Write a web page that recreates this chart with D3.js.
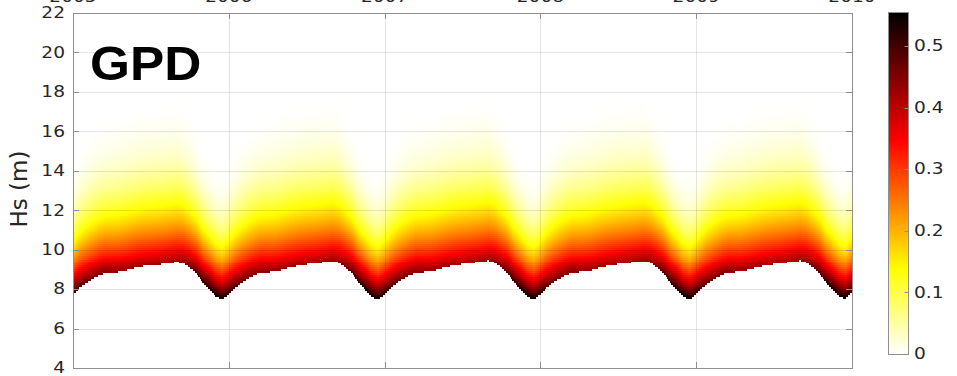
<!DOCTYPE html>
<html>
<head>
<meta charset="utf-8">
<script src="https://cdn.jsdelivr.net/npm/d3@7/dist/d3.min.js"></script>
<style>
  html, body { margin: 0; padding: 0; background: #fff; overflow: hidden; }
  svg { display: block; }
</style>
</head>
<body>
<svg id="chart" width="957" height="376"></svg>
<script>
// Year ticks along the time axis
const yearTicks = [2005, 2006, 2007, 2008, 2009, 2010];
// Significant wave height ticks (m)
const hsTicks = [4, 6, 8, 10, 12, 14, 16, 18, 20, 22];
// Colour bar ticks (probability density)
const densityTicks = [0, 0.1, 0.2, 0.3, 0.4, 0.5];
const densityMax = 0.555;

// GPD parameters, sampled twice a month from 2005.0 to 2010.0
const samplesPerYear = 24;
// threshold u (m): lower bound of the distribution
const threshold = [
  7.66, 8.05, 8.30, 8.50, 8.68, 8.80, 8.82, 8.85, 8.92, 9.02, 9.10, 9.16, 9.20, 9.23, 9.27, 9.32, 9.38, 9.30, 9.07, 8.78, 8.31, 7.98, 7.63, 7.46,
  7.74, 8.06, 8.32, 8.52, 8.70, 8.82, 8.84, 8.87, 8.95, 9.05, 9.13, 9.20, 9.25, 9.29, 9.33, 9.38, 9.44, 9.33, 9.08, 8.78, 8.31, 7.97, 7.62, 7.46,
  7.73, 8.06, 8.33, 8.53, 8.71, 8.83, 8.85, 8.88, 8.96, 9.06, 9.14, 9.21, 9.26, 9.30, 9.35, 9.40, 9.46, 9.34, 9.08, 8.78, 8.31, 7.97, 7.62, 7.46,
  7.74, 8.07, 8.33, 8.53, 8.71, 8.83, 8.85, 8.88, 8.96, 9.06, 9.14, 9.21, 9.26, 9.30, 9.35, 9.40, 9.45, 9.33, 9.08, 8.78, 8.31, 7.98, 7.63, 7.47,
  7.74, 8.06, 8.32, 8.53, 8.71, 8.83, 8.85, 8.88, 8.96, 9.06, 9.14, 9.21, 9.26, 9.30, 9.35, 9.40, 9.46, 9.34, 9.09, 8.79, 8.32, 7.99, 7.65, 7.50,
  7.85
];
// scale sigma (m)
const scale = [
  1.89, 1.99, 2.08, 2.14, 2.18, 2.20, 2.23, 2.25, 2.28, 2.30, 2.31, 2.33, 2.34, 2.34, 2.34, 2.34, 2.33, 2.26, 2.16, 2.04, 1.94, 1.86, 1.81, 1.80,
  1.89, 2.00, 2.09, 2.15, 2.19, 2.21, 2.24, 2.26, 2.29, 2.31, 2.33, 2.34, 2.35, 2.35, 2.35, 2.35, 2.34, 2.27, 2.17, 2.05, 1.94, 1.86, 1.81, 1.80,
  1.89, 2.00, 2.09, 2.15, 2.19, 2.21, 2.24, 2.26, 2.29, 2.31, 2.33, 2.34, 2.35, 2.35, 2.35, 2.35, 2.34, 2.27, 2.17, 2.05, 1.94, 1.86, 1.81, 1.80,
  1.89, 2.00, 2.09, 2.15, 2.19, 2.21, 2.24, 2.26, 2.29, 2.31, 2.33, 2.34, 2.35, 2.35, 2.35, 2.35, 2.34, 2.27, 2.17, 2.05, 1.94, 1.86, 1.81, 1.80,
  1.89, 2.00, 2.09, 2.15, 2.19, 2.21, 2.24, 2.26, 2.29, 2.31, 2.33, 2.34, 2.35, 2.35, 2.35, 2.35, 2.34, 2.27, 2.17, 2.05, 1.94, 1.86, 1.81, 1.80,
  1.92
];
// shape xi
const shape = -0.25;
const hsBin = 0.1;

const sampleTimes = threshold.map((_, i) => yearTicks[0] + i / samplesPerYear);

// layout
const plot = { left: 73, right: 852, top: 13, bottom: 368 };
const bar = { left: 888, width: 20, top: 12, bottom: 354 };
const axisColor = "#8f8f8f";
const textColor = "#262626";
const stretch = 1.24;   // horizontal stretch of the lettering

const svg = d3.select("#chart");

const x = d3.scaleLinear().domain([yearTicks[0], yearTicks[yearTicks.length - 1]]).range([plot.left, plot.right]);
const y = d3.scaleLinear().domain([4, 22]).range([plot.bottom, plot.top]);
const c = d3.scaleLinear().domain([0, densityMax]).range([bar.bottom, bar.top]);

// reversed "hot" colour map: white -> yellow -> red -> black
const colour = d3.scaleLinear()
  .domain([0, 0.25, 0.625, 1].map(v => v * densityMax))
  .range(["#ffffff", "#ffff00", "#ff0000", "#000000"])
  .clamp(true);

const uAt = d3.scaleLinear().domain(sampleTimes).range(threshold);
const sAt = d3.scaleLinear().domain(sampleTimes).range(scale);

// GPD density field rendered into a bitmap
const W = Math.round(plot.right - plot.left), H = Math.round(plot.bottom - plot.top);
const cv = document.createElement("canvas");
cv.width = W; cv.height = H;
const ctx = cv.getContext("2d");
const img = ctx.createImageData(W, H);
const lut = d3.range(256).map(i => d3.rgb(colour(i / 255 * densityMax)));
for (let px = 0; px < W; px++) {
  const t = x.invert(plot.left + px + 0.5);
  const u = uAt(t), s = sAt(t);
  for (let py = 0; py < H; py++) {
    const h = y.invert(plot.top + py + 0.5);
    const hc = Math.floor(h / hsBin) * hsBin + hsBin / 2;
    if (hc < u) continue;
    const base = 1 + shape * (hc - u) / s;
    if (base <= 0) continue;
    const f = Math.pow(base, -1 / shape - 1) / s;
    const k = Math.max(0, Math.min(255, Math.round(f / densityMax * 255)));
    const col = lut[k];
    const o = (py * W + px) * 4;
    img.data[o] = col.r; img.data[o + 1] = col.g; img.data[o + 2] = col.b; img.data[o + 3] = 255;
  }
}
ctx.putImageData(img, 0, 0);

svg.append("image")
  .attr("href", cv.toDataURL())
  .attr("x", plot.left).attr("y", plot.top)
  .attr("width", W).attr("height", H)
  .attr("preserveAspectRatio", "none");

// grid
const grid = svg.append("g").attr("stroke", "#000").attr("stroke-opacity", 0.1).attr("stroke-width", 1);
grid.selectAll("line.v").data(yearTicks.slice(1, -1)).join("line")
  .attr("x1", d => Math.round(x(d)) + 0.5).attr("x2", d => Math.round(x(d)) + 0.5)
  .attr("y1", plot.top).attr("y2", plot.bottom);
grid.selectAll("line.h").data(hsTicks.slice(1, -1)).join("line")
  .attr("y1", d => Math.round(y(d)) + 0.5).attr("y2", d => Math.round(y(d)) + 0.5)
  .attr("x1", plot.left).attr("x2", plot.right);

// axes box with inward ticks
const tickLen = 6;
const ax = svg.append("g").attr("stroke", axisColor).attr("stroke-width", 1).attr("fill", "none");
ax.append("rect")
  .attr("x", plot.left + 0.5).attr("y", plot.top + 0.5)
  .attr("width", plot.right - plot.left).attr("height", plot.bottom - plot.top);
yearTicks.forEach(d => {
  const xx = Math.round(x(d)) + 0.5;
  ax.append("line").attr("x1", xx).attr("x2", xx).attr("y1", plot.bottom).attr("y2", plot.bottom - tickLen);
  ax.append("line").attr("x1", xx).attr("x2", xx).attr("y1", plot.top).attr("y2", plot.top + tickLen);
});
hsTicks.forEach(d => {
  const yy = Math.round(y(d)) + 0.5;
  ax.append("line").attr("y1", yy).attr("y2", yy).attr("x1", plot.left).attr("x2", plot.left + tickLen);
  ax.append("line").attr("y1", yy).attr("y2", yy).attr("x1", plot.right).attr("x2", plot.right - tickLen);
});

function label(g, tx, ty, str, anchor, size, opts = {}) {
  return g.append("text")
    .attr("transform", `translate(${tx},${ty}) ${opts.rotate ? `rotate(${opts.rotate})` : ""} scale(${opts.sx || stretch},1)`)
    .attr("text-anchor", anchor)
    .attr("dominant-baseline", opts.baseline || "central")
    .attr("font-family", opts.family || "DejaVu Sans, sans-serif")
    .attr("font-weight", opts.weight || "normal")
    .attr("font-size", size)
    .attr("fill", opts.fill || textColor)
    .text(str);
}

const labels = svg.append("g");
hsTicks.forEach(d => label(labels, 65, y(d), d3.format("d")(d), "end", 15));
// year labels sit above the frame, only their lower edge in view
yearTicks.forEach(d => label(labels, x(d), 2, String(d), "middle", 15, { baseline: "alphabetic" }));
label(labels, 19, 189, "Hs (m)", "middle", 23, { rotate: -90, sx: 1 });
label(labels, 90, 80, "GPD", "start", 48, { baseline: "alphabetic", family: "Liberation Sans, Arial, sans-serif", weight: "bold", sx: 1.07, fill: "#000" });

// colour bar
const defs = svg.append("defs");
const grad = defs.append("linearGradient").attr("id", "cbar")
  .attr("x1", 0).attr("y1", 1).attr("x2", 0).attr("y2", 0);
colour.domain().forEach(v => grad.append("stop")
  .attr("offset", v / densityMax).attr("stop-color", colour(v)));
svg.append("rect")
  .attr("x", bar.left + 0.5).attr("y", bar.top + 0.5)
  .attr("width", bar.width).attr("height", bar.bottom - bar.top)
  .attr("fill", "url(#cbar)").attr("stroke", axisColor);
const cb = svg.append("g");
densityTicks.forEach(d => {
  const yy = Math.round(c(d)) + 0.5;
  cb.append("line").attr("x1", bar.left + bar.width + 0.5).attr("x2", bar.left + bar.width - 3.5)
    .attr("y1", yy).attr("y2", yy).attr("stroke", axisColor);
  label(cb, 914, c(d), d3.format("~g")(d), "start", 15);
});
</script>
</body>
</html>
